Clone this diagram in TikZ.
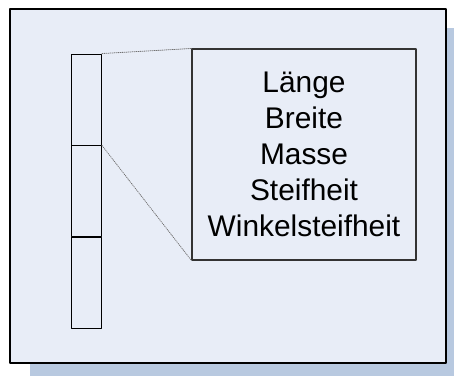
\documentclass[tikz,border=0pt]{standalone}
\usepackage{fontspec}
\setmainfont{Liberation Sans}
\usetikzlibrary{positioning}
\definecolor{eeffff}{rgb}{0.91,0.93,0.97}
\definecolor{bbccee}{rgb}{0.72,0.79,0.88}
\definecolor{uququq}{rgb}{0.2,0.2,0.2}
\definecolor{gggggg}{rgb}{0.45,0.45,0.45}
\begin{document}
\begin{tikzpicture}[line cap=round,line join=round,x=0.75pt,y=-0.75pt,
  cell/.style={draw=black,line width=0.7pt,inner sep=0pt,minimum width=22.9pt,minimum height=68.25pt},
  infobox/.style={draw=uququq,line width=0.8pt,inner sep=0pt,minimum width=168pt,minimum height=158.25pt,
    align=center,font=\fontsize{22.4}{27}\selectfont}]
\useasboundingbox (0,0) rectangle (454,376);
\fill [color=bbccee] (30,28) rectangle (454,376);
\draw [draw=black,fill=eeffff,line width=0.8pt] (10,9) rectangle (446,363);
\node[cell] (c1) at (86.25,99.5) {};
\node[cell,below=0pt of c1] (c2) {};
\node[cell,below=0pt of c2] (c3) {};
\node[infobox] (info) at (304,154.5) {Länge\\Breite\\Masse\\Steifheit\\Winkelsteifheit};
\draw [color=gggggg,dash pattern=on 0.6pt off 0.9pt,line width=0.6pt] (c1.north east) -- (info.north west);
\draw [color=gggggg,dash pattern=on 0.6pt off 0.9pt,line width=0.6pt] (c1.south east) -- (info.south west);
\end{tikzpicture}
\end{document}
